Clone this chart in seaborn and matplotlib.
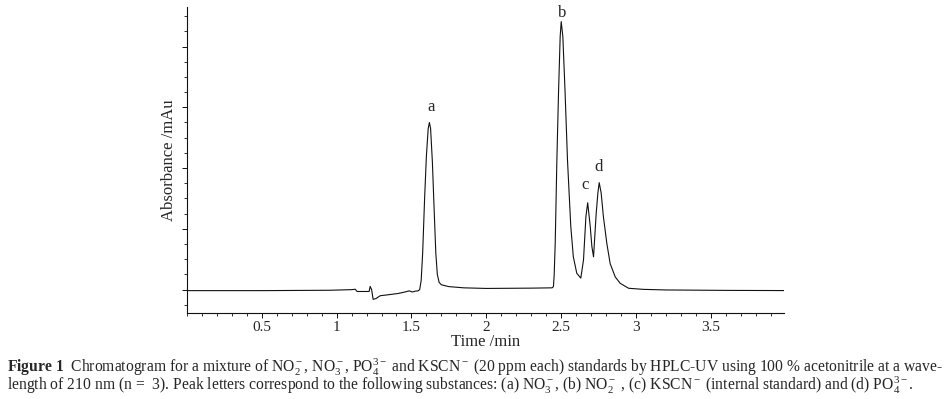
import matplotlib
matplotlib.use("Agg")
import matplotlib.pyplot as plt
from matplotlib.ticker import MultipleLocator, NullFormatter
import seaborn as sns

# trace (time in min, absorbance in major-tick units)
time_min = [
    0.00, 0.50, 0.95, 1.10, 1.124, 1.137, 1.217, 1.224, 1.234, 1.244, 1.264, 1.291,
    1.358, 1.411, 1.458, 1.485, 1.505, 1.525, 1.544,
    1.555, 1.565, 1.575, 1.588, 1.600, 1.612, 1.620, 1.628, 1.640, 1.652, 1.663,
    1.673, 1.685, 1.700, 1.750, 1.850, 2.000, 2.300, 2.440,
    2.449, 2.454, 2.461, 2.472, 2.483, 2.494, 2.501, 2.512, 2.527, 2.543, 2.565,
    2.582, 2.605, 2.632, 2.650, 2.666, 2.678, 2.695, 2.706, 2.717, 2.735, 2.746,
    2.755, 2.768, 2.783, 2.806, 2.828, 2.862, 2.895, 2.951, 3.050, 3.200, 3.600, 3.990,
]
absorbance = [
    -0.016, -0.016, -0.010, 0.000, 0.007, -0.030, -0.030, 0.053, 0.000, -0.160, -0.145, -0.100,
    -0.080, -0.063, -0.038, -0.020, -0.038, -0.025, -0.020,
    0.000, 0.150, 0.600, 1.500, 2.200, 2.650, 2.750, 2.650, 2.100, 1.300, 0.600,
    0.250, 0.120, 0.080, 0.050, 0.030, 0.020, 0.025, 0.030,
    0.050, 0.240, 0.770, 2.130, 3.240, 4.160, 4.410, 4.160, 3.240, 2.130, 1.040,
    0.540, 0.270, 0.190, 0.490, 1.200, 1.430, 1.040, 0.710, 0.540, 1.260, 1.590,
    1.760, 1.590, 1.200, 0.760, 0.430, 0.210, 0.105, 0.023, 0.005, -0.005, -0.012, -0.015,
]

x_ticks = [0.5, 1, 1.5, 2, 2.5, 3, 3.5]
x_tick_labels = ["0.5", "1", "1.5", "2", "2.5", "3", "3.5"]
peak_letters = ["a", "b", "c", "d"]
peak_label_time = [1.630, 2.505, 2.661, 2.750]
peak_label_abs = [3.01, 4.55, 1.72, 2.02]

sns.set_style("ticks")
plt.rcParams["font.family"] = ["Liberation Serif", "DejaVu Serif"]
plt.rcParams["mathtext.fontset"] = "custom"
plt.rcParams["mathtext.rm"] = "Liberation Serif"
plt.rcParams["mathtext.it"] = "Liberation Serif:italic"
plt.rcParams["mathtext.bf"] = "Liberation Serif:bold"

fig = plt.figure(figsize=(9.51, 3.99), dpi=100)
ax = fig.add_axes([187 / 951, 1 - 313 / 399, (784 - 187) / 951, (313 - 7) / 399])

sns.lineplot(x=time_min, y=absorbance, color="#111111", lw=0.8,
             estimator=None, sort=False, ax=ax)

ax.set_xlim(0, 3.99)
ax.set_ylim(-0.384, 4.65)
sns.despine(ax=ax)
for s in ["left", "bottom"]:
    ax.spines[s].set_linewidth(0.8)
    ax.spines[s].set_color("#111111")

ax.set_xticks(x_ticks)
ax.set_xticklabels(x_tick_labels, fontsize=11)
ax.xaxis.set_minor_locator(MultipleLocator(0.1))
ax.set_yticks([0, 1, 2, 3, 4])
ax.yaxis.set_major_formatter(NullFormatter())
ax.yaxis.set_minor_locator(MultipleLocator(0.25))
ax.tick_params(which="major", length=3.6, width=0.7, color="#111111", pad=2.5)
ax.tick_params(which="minor", length=2.2, width=0.6, color="#111111")

ax.set_xlabel("Time /min", fontsize=12, labelpad=0)
ax.set_ylabel("Absorbance /mAu", fontsize=12, labelpad=1)

for letter, t, a in zip(peak_letters, peak_label_time, peak_label_abs):
    ax.text(t, a, letter, fontsize=12, ha="center", va="center")

line1 = (r"$\mathbf{Figure\ 1}$  Chromatogram for a mixture of NO$_2^-$, NO$_3^-$, "
         r"PO$_4^{3-}$ and KSCN$^-$ (20 ppm each) standards by HPLC-UV using 100 % "
         r"acetonitrile at a wave-")
line2 = (r"length of 210 nm (n =  3). Peak letters correspond to the following substances: "
         r"(a) NO$_3^-$, (b) NO$_2^-$ , (c) KSCN$^-$ (internal standard) and (d) PO$_4^{3-}$.")
fig.text(7 / 951, 1 - 372 / 399, line1, fontsize=11.25, va="baseline", ha="left")
fig.text(7 / 951, 1 - 390 / 399, line2, fontsize=11.25, va="baseline", ha="left")

fig.savefig("out.png", dpi=100)
